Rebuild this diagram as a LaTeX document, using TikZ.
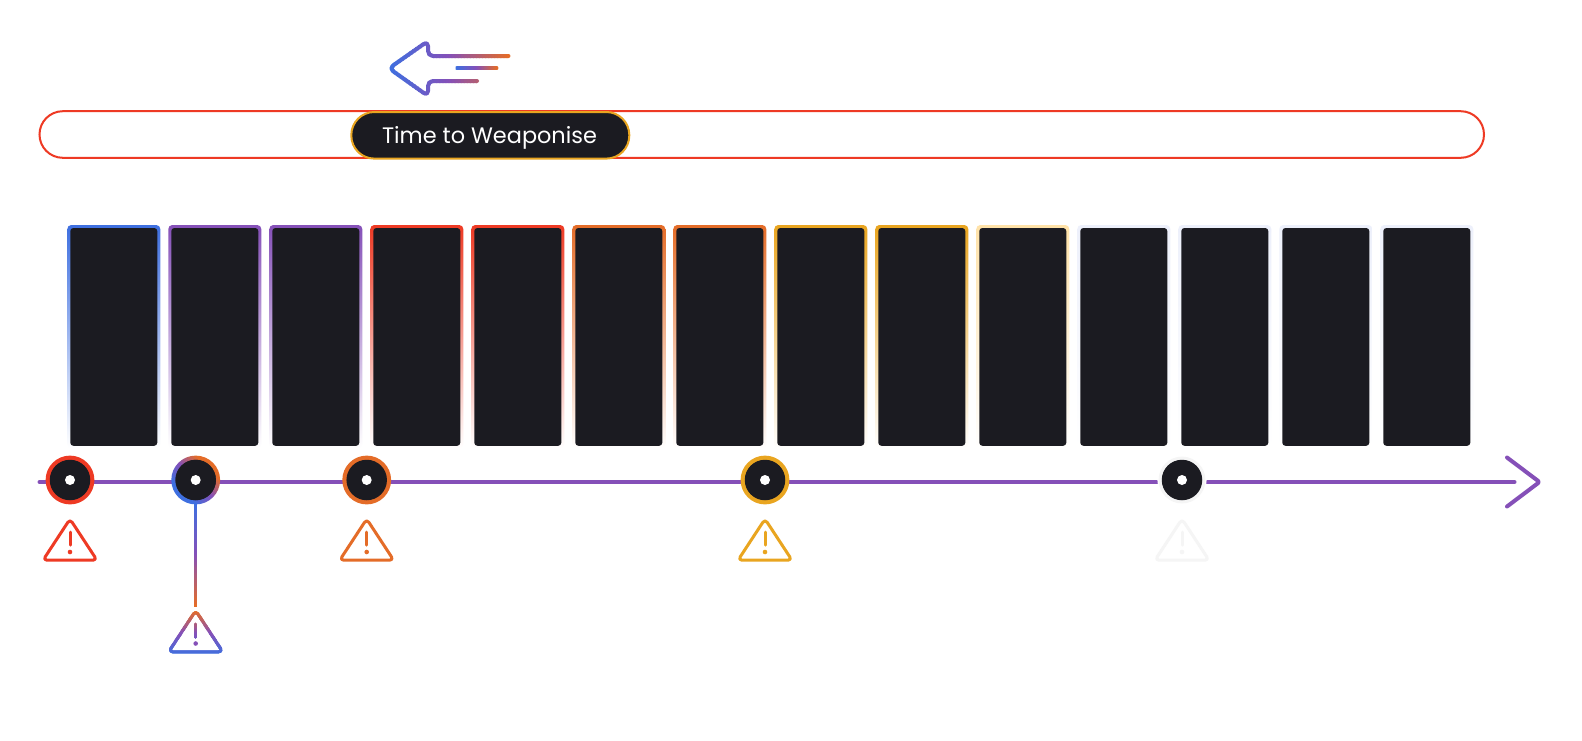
\documentclass[tikz,border=0pt]{standalone}
\usepackage{fontspec}
\setmainfont{Poppins}
\definecolor{gblue}{HTML}{3E6FE0}
\definecolor{gpurple}{HTML}{8550B8}
\definecolor{gred}{HTML}{EE3A24}
\definecolor{gorange}{HTML}{E46C28}
\definecolor{gamber}{HTML}{E9A520}
\definecolor{glamber}{HTML}{FFE2A8}
\definecolor{gpale}{HTML}{EDF0FB}
\definecolor{gghost}{HTML}{F5F5F5}
\definecolor{gdark}{HTML}{1B1B21}
\pgfdeclarehorizontalshading{ringramp}{100bp}{color(0bp)=(gblue);color(32bp)=(gblue);color(50bp)=(gpurple);color(68bp)=(gorange);color(100bp)=(gorange)}
\tikzset{
  railline/.style={draw=gpurple,line width=4pt,line cap=round,line join=round},
  cardinner/.style={rectangle,fill=gdark,rounded corners=3pt,minimum width=87pt,minimum height=217.7pt,inner sep=0pt,outer sep=0pt},
  milecore/.style={circle,fill=gdark,minimum size=40.5pt,inner sep=0pt,outer sep=0pt},
  miledot/.style={circle,fill=white,minimum size=10pt,inner sep=0pt},
  warnstroke/.style={line width=3pt,line cap=round,line join=round,rounded corners=4pt},
  gradline/.style={line width=4pt,line cap=round,line join=round},
  pilltext/.style={text=white,font=\fontsize{22.4}{24}\selectfont,inner sep=0pt,anchor=base},
}
% colour ramp: blue -> purple -> orange, #1 = 0..100
\newcommand{\rampcolor}[1]{%
  \pgfmathtruncatemacro{\rampv}{#1}%
  \ifnum\rampv<50
    \pgfmathtruncatemacro{\rampp}{2*\rampv}\colorlet{rampc}{gpurple!\rampp!gblue}%
  \else
    \pgfmathtruncatemacro{\rampp}{2*\rampv-100}\colorlet{rampc}{gorange!\rampp!gpurple}%
  \fi}
% horizontal gradient stroke: x0 x1 (blue at x0), y0 y1 clip, options, path
\newcommand{\hgradstroke}[6]{%
  \foreach \gi in {0,...,39}{%
    \rampcolor{\gi*100/39}%
    \begin{scope}
      \pgfmathsetmacro{\ga}{#1+(#2-#1)*\gi/40-0.4}
      \pgfmathsetmacro{\gb}{#1+(#2-#1)*(\gi+1)/40+0.4}
      \clip (\ga,#3) rectangle (\gb,#4);
      \draw[#5,draw=rampc] #6;
    \end{scope}}}
% vertical gradient stroke: y0 y1 (blue at y0), x0 x1 clip, options, path
\newcommand{\vgradstroke}[6]{%
  \foreach \gi in {0,...,39}{%
    \rampcolor{\gi*100/39}%
    \begin{scope}
      \pgfmathsetmacro{\ga}{#1+(#2-#1)*\gi/40-0.4*(#2-#1)/abs(#2-#1)}
      \pgfmathsetmacro{\gb}{#1+(#2-#1)*(\gi+1)/40+0.4*(#2-#1)/abs(#2-#1)}
      \clip (#3,\ga) rectangle (#4,\gb);
      \draw[#5,draw=rampc] #6;
    \end{scope}}}
\begin{document}
\begin{tikzpicture}[x=1pt,y=-1pt]
\useasboundingbox (0,0) rectangle (1582,740);
\fill[white] (0,0) rectangle (1582,740);

% top arrow
\hgradstroke{388}{510}{35}{105}{gradline,rounded corners=5pt}{(508.5,56) -- (428,56) -- (428,41) -- (389,68.3) -- (428,96) -- (428,81) -- (477,81)}
\hgradstroke{456}{498}{60}{76}{gradline}{(457,68.3) -- (496.5,68.3)}

% long pill
\draw[gred,line width=2pt,rounded corners=23.3pt] (39.5,111.2) rectangle (1484,157.8);
\node[rectangle,rounded corners=23pt,draw=gamber,line width=2pt,fill=gdark,minimum width=278pt,minimum height=46.6pt,inner sep=0pt,anchor=center] (pill) at (490.3,135.3) {};
\node[pilltext] (pilllabel) at (489.5,143.3) {Time to Weaponise};

% cards
\foreach \n/\c in {0/gblue,1/gpurple,2/gpurple,3/gred,4/gred,5/gorange,6/gorange,7/gamber,8/gamber,9/glamber,10/gpale,11/gpale,12/gpale,13/gpale}{
  \pgfmathsetmacro{\cx}{113.8+101*\n}
  \shade[rounded corners=4pt,top color=\c,bottom color=white] (\cx-46.5,225) rectangle (\cx+46.5,448);
  \node[cardinner] (card\n) at (\cx,336.9) {};
}

% timeline
\coordinate (railstart) at (39.5,482);
\coordinate (railend) at (1514.5,482);
\coordinate (railtip) at (1539.5,482);
\coordinate (headtop) at (1507,457.5);
\coordinate (headbot) at (1507,506.5);
\draw[railline] (railstart) -- (railend);
\draw[railline,rounded corners=2pt] (headtop) -- (railtip) -- (headbot);

% milestones
\fill[white] (1182,480) circle (24.6);
\fill[gred] (70,480) circle (24.4);
\fill[gorange] (366.7,480) circle (24.4);
\fill[gamber] (765,480) circle (24.4);
\fill[gghost] (1182,480) circle (23.4);
\shade[even odd rule,shading=ringramp,shading angle=45] (195.7,480) circle (24.4) (195.7,480) circle (20);
\foreach \nm/\x in {m1/70,m2/195.7,m3/366.7,m4/765,m5/1182}{
  \node[milecore] (\nm) at (\x,480) {};
  \node[miledot] (\nm dot) at (\x,480) {};
}

% warning triangles
\foreach \nm/\x/\c in {w1/70/gred,w3/366.7/gorange,w4/765/gamber,w5/1182/gghost}{
  \coordinate (\nm) at (\x,540);
  \draw[warnstroke,draw=\c] (\x,519) -- (\x+27,560.2) -- (\x-27,560.2) -- cycle;
  \draw[\c,line width=3pt,line cap=round] (\x,532) -- (\x,545);
  \fill[\c] (\x,552) circle (2.3);
}
\coordinate (w2) at (195.7,607);
\vgradstroke{655}{610}{160}{232}{warnstroke}{(195.7,610.6) -- (222.7,651.8) -- (168.7,651.8) -- cycle}
\vgradstroke{655}{610}{190}{201}{line width=3pt,line cap=round}{(195.7,624) -- (195.7,637)}
\fill[gpurple] (195.7,643.5) circle (2.3);
% connector m2 to w2
\vgradstroke{504}{607}{190}{201}{line width=2.5pt}{(m2) -- (w2)}
\fill[gdark] (m2) circle (20.2);
\node[miledot] at (m2) {};
\end{tikzpicture}
\end{document}
